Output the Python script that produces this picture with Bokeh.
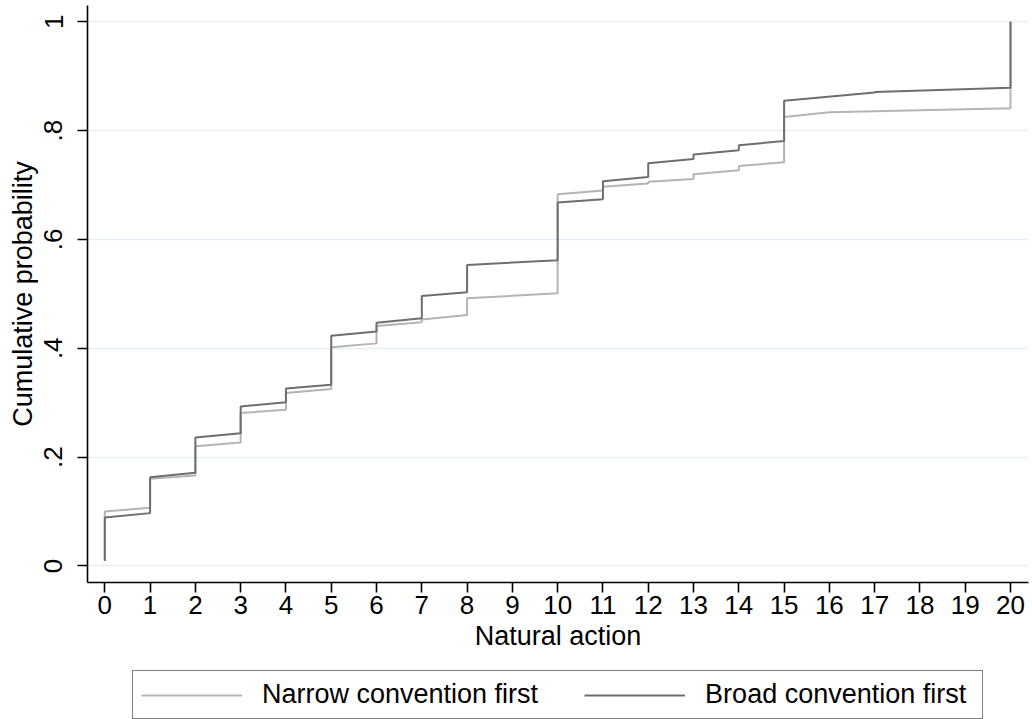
from bokeh.plotting import figure
from bokeh.models import (FixedTicker, CustomJSTickFormatter, Legend, LegendItem, Range1d)
from bokeh.layouts import column
from bokeh.embed import file_html
from bokeh.resources import INLINE

# ---- data ----
narrow_x = [0, 1, 2, 3, 4, 5, 6, 7, 8, 10, 11, 12, 13, 14, 15, 16, 20]
narrow_before = [0.012, 0.107, 0.166, 0.227, 0.287, 0.325, 0.409, 0.448, 0.461,
                 0.501, 0.690, 0.703, 0.711, 0.727, 0.742, 0.834, 0.841]
narrow_after = [0.100, 0.160, 0.220, 0.281, 0.318, 0.402, 0.441, 0.453, 0.492,
                0.683, 0.697, 0.706, 0.720, 0.735, 0.825, 0.834, 1.000]

broad_x = [0, 1, 2, 3, 4, 5, 6, 7, 8, 10, 11, 12, 13, 14, 15, 17, 20]
broad_before = [0.009, 0.097, 0.171, 0.244, 0.301, 0.333, 0.431, 0.455, 0.503,
                0.562, 0.674, 0.715, 0.748, 0.764, 0.781, 0.870, 0.879]
broad_after = [0.089, 0.163, 0.236, 0.293, 0.326, 0.423, 0.447, 0.496, 0.553,
               0.668, 0.707, 0.740, 0.756, 0.773, 0.855, 0.871, 1.000]

x_ticks = list(range(0, 21))
y_ticks = [0, 0.2, 0.4, 0.6, 0.8, 1.0]
series_labels = ["Narrow convention first", "Broad convention first"]


def step_path(xs, before, after):
    px, py = [], []
    for x, b, a in zip(xs, before, after):
        px += [x, x]
        py += [b, a]
    return px, py


FONT = "Liberation Sans"
LIGHT = "#b4b4b4"
DARK = "#6e6e6e"

p = figure(width=1032, height=660, output_backend="svg",
           toolbar_location=None,
           x_range=Range1d(-0.382, 20.397), y_range=Range1d(-0.0305, 1.030),
           min_border_left=87, min_border_right=4, min_border_top=5,
           min_border_bottom=78)
p.outline_line_color = None
p.background_fill_color = "white"
p.border_fill_color = "white"

nx, ny = step_path(narrow_x, narrow_before, narrow_after)
bx, by = step_path(broad_x, broad_before, broad_after)
p.line(nx, ny, line_color=LIGHT, line_width=2)
p.line(bx, by, line_color=DARK, line_width=2)

# grid
p.xgrid.visible = False
p.ygrid.grid_line_color = "#e6eef1"
p.ygrid.grid_line_width = 1.5
p.ygrid.ticker = FixedTicker(ticks=y_ticks)

# x axis
xa = p.xaxis[0]
xa.ticker = FixedTicker(ticks=x_ticks)
xa.axis_label = "Natural action"
xa.axis_label_text_font = FONT
xa.axis_label_text_font_style = "normal"
xa.axis_label_text_font_size = "27px"
xa.axis_label_standoff = 4
xa.major_label_text_font = FONT
xa.major_label_text_font_size = "26px"
xa.major_label_standoff = 3
xa.major_tick_out = 10
xa.major_tick_in = 0
xa.minor_tick_out = 0
xa.minor_tick_in = 0
xa.axis_line_width = 1.6
xa.major_tick_line_width = 1.6
xa.axis_line_color = "black"
xa.major_tick_line_color = "black"
xa.major_label_text_color = "black"
xa.axis_label_text_color = "black"

# y axis
ya = p.yaxis[0]
ya.ticker = FixedTicker(ticks=y_ticks)
ya.formatter = CustomJSTickFormatter(code="""
if (Math.abs(tick) < 1e-9) return "0";
if (Math.abs(tick - 1) < 1e-9) return "1";
return tick.toFixed(1).replace(/^0/, "");
""")
ya.axis_label = "Cumulative probability"
ya.axis_label_text_font = FONT
ya.axis_label_text_font_style = "normal"
ya.axis_label_text_font_size = "27px"
ya.axis_label_standoff = 4
ya.major_label_text_font = FONT
ya.major_label_text_font_size = "26px"
ya.major_label_orientation = "parallel"
ya.major_label_standoff = 15
ya.major_tick_out = 10
ya.major_tick_in = 0
ya.minor_tick_out = 0
ya.minor_tick_in = 0
ya.axis_line_width = 1.6
ya.major_tick_line_width = 1.6
ya.axis_line_color = "black"
ya.major_tick_line_color = "black"
ya.major_label_text_color = "black"
ya.axis_label_text_color = "black"

# ---- legend strip below the plot ----
lf = figure(width=1032, height=59, output_backend="svg", toolbar_location=None,
            x_axis_location=None, y_axis_location=None,
            x_range=Range1d(0, 1), y_range=Range1d(0, 1),
            min_border_left=0, min_border_right=0, min_border_top=0,
            min_border_bottom=0)
lf.outline_line_color = None
lf.xgrid.visible = False
lf.ygrid.visible = False
lf.background_fill_color = "white"
lf.border_fill_color = "white"
# legend-only renderers, placed outside the visible range
l1 = lf.line([-5, -4], [-5, -4], line_color=LIGHT, line_width=2)
l2 = lf.line([-5, -4], [-5, -4], line_color=DARK, line_width=2)

legend = Legend(items=[LegendItem(label=series_labels[0], renderers=[l1]),
                       LegendItem(label=series_labels[1], renderers=[l2])],
                orientation="horizontal", location=(45, 0),
                glyph_width=101, glyph_height=20, label_standoff=20,
                label_width=269,
                spacing=46, padding=8, margin=0,
                label_text_font=FONT, label_text_font_size="27px",
                label_text_color="black",
                border_line_color="black", border_line_width=1.5,
                background_fill_color="white", background_fill_alpha=1.0)
lf.add_layout(legend, "center")

layout = column(p, lf, spacing=0)
open("out.html", "w").write(file_html(layout, INLINE))
